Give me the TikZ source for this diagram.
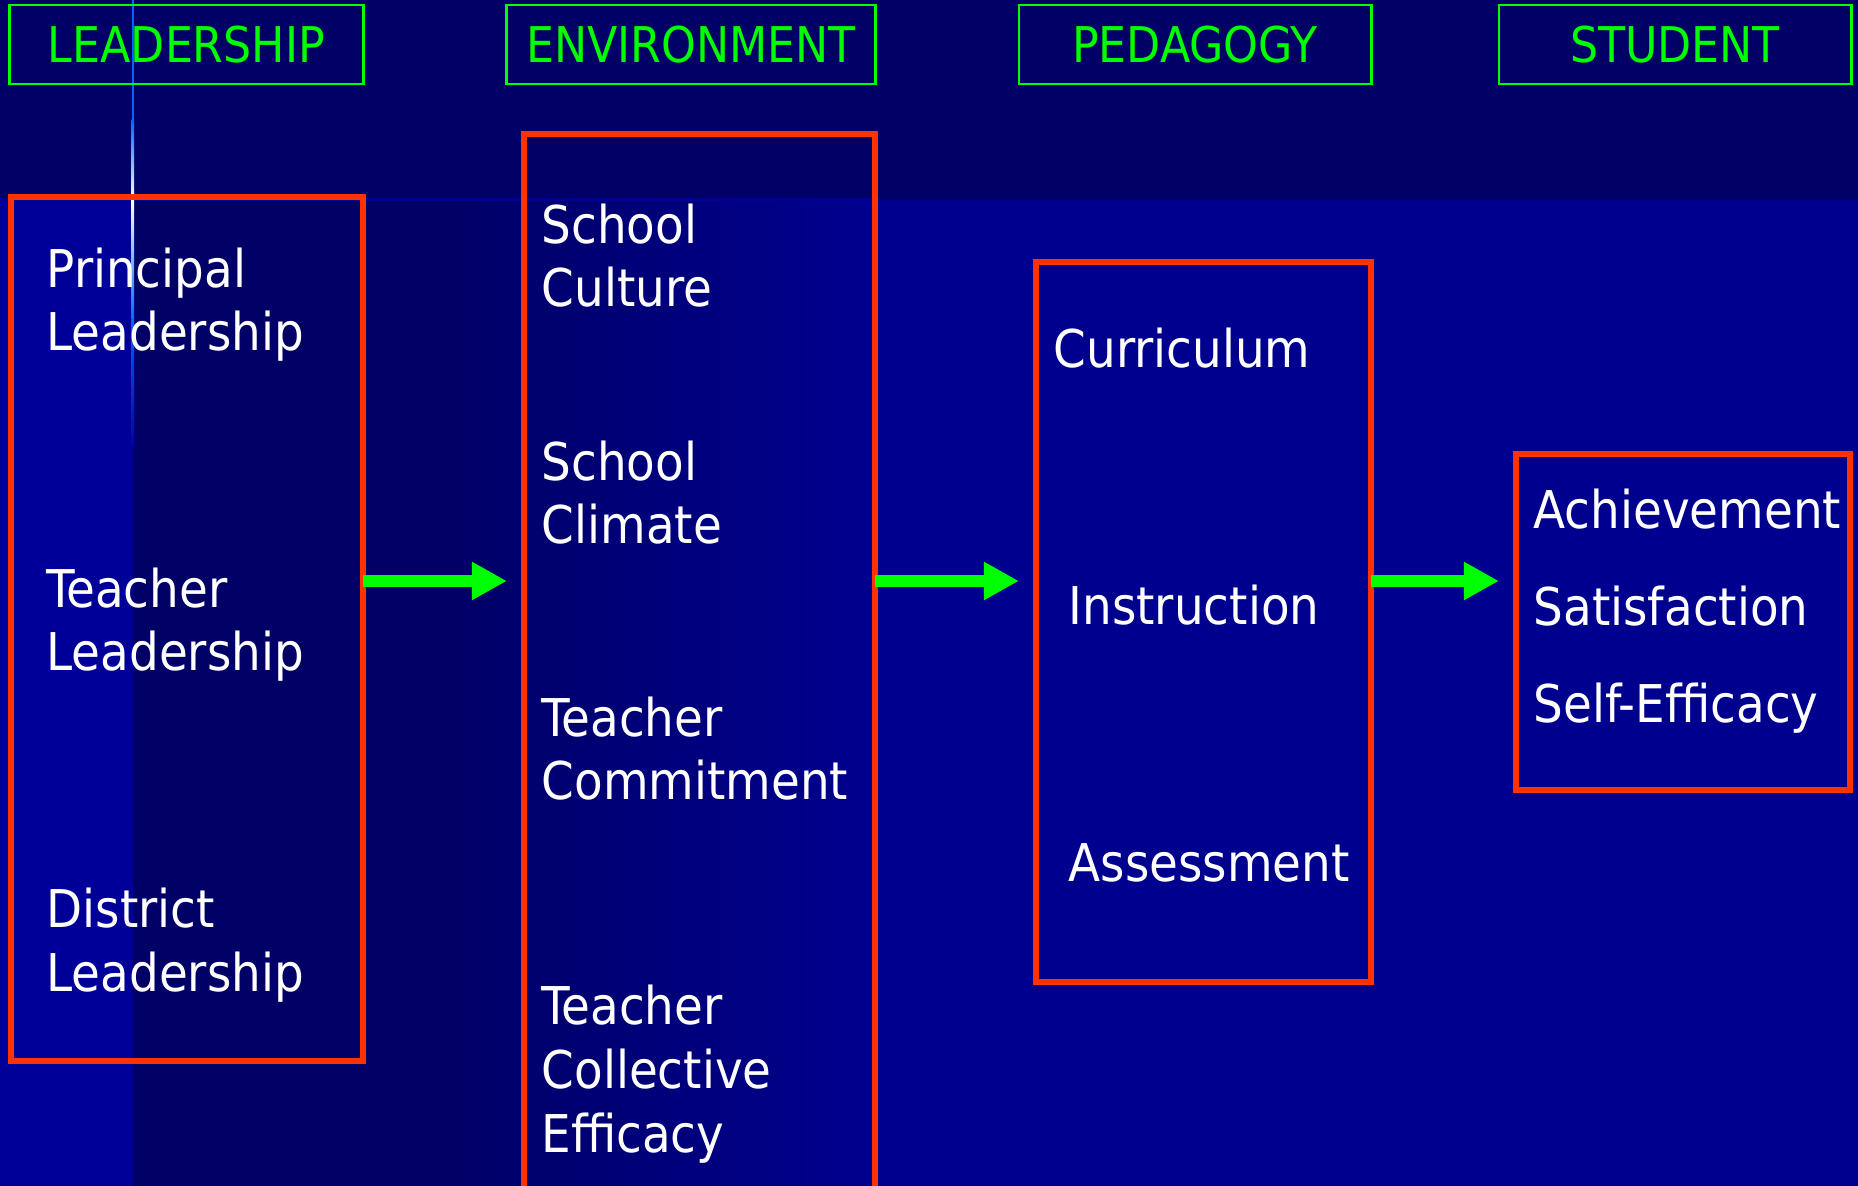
\documentclass[tikz,border=0pt]{standalone}
\usepackage{fontspec}
\setmainfont{DejaVu Sans Condensed}
\usepackage{tikz}
\usetikzlibrary{arrows.meta, positioning}

\definecolor{slidenavy}{RGB}{0,0,102}
\definecolor{slideblue}{RGB}{0,0,143}
\definecolor{stripblue}{RGB}{0,0,153}
\definecolor{glowblue}{RGB}{0,102,255}
\definecolor{boxred}{RGB}{255,51,0}
\definecolor{headgreen}{RGB}{0,255,0}

\tikzset{
  headbox/.style={draw=headgreen, rectangle, line width=0.8pt, minimum height=0.79cm, inner sep=0pt, text=headgreen, font=\fontsize{14}{17}\selectfont},
  redbox/.style={draw=boxred, rectangle, line width=1.7pt, inner sep=0pt, outer sep=0pt},
  item/.style={text=white, align=left, anchor=base west, inner sep=0pt, font=\fontsize{14.8}{18.1}\selectfont},
  flowarrow/.style={draw=headgreen, line width=0.12cm, -{Triangle[length=0.35cm, width=0.36cm]}, shorten >=0.17cm}
}

\begin{document}
\begin{tikzpicture}[x=0.01cm, y=-0.01cm]
  \clip (0,0) rectangle (1858,1186);
  % slide background
  \fill[slidenavy] (0,0) rectangle (1858,1186);
  \fill[stripblue] (0,200) rectangle (133,1186);
  \shade[left color=slidenavy, right color=slideblue] (450,200) rectangle (880,1186);
  \fill[slideblue] (880,200) rectangle (1858,1186);
  \fill[stripblue] (0,198.5) rectangle (880,201.5);
  \fill[glowblue] (131.5,0) rectangle (134,120);
  \shade[top color=glowblue, bottom color=white] (131.5,120) rectangle (134,200);
  \shade[top color=white, bottom color=glowblue] (131.5,200) rectangle (134,320);
  \shade[top color=glowblue, bottom color=stripblue] (131.5,320) rectangle (134,450);

  % column heads
  \node[headbox, minimum width=3.53cm] (lead) at (186.5,44.5) {LEADERSHIP};
  \node[headbox, minimum width=3.68cm] (env) at (691,44.5) {ENVIRONMENT};
  \node[headbox, minimum width=3.52cm] (ped) at (1195,44.5) {PEDAGOGY};
  \node[headbox, minimum width=3.52cm] (stud) at (1675,44.5) {STUDENT};

  % red frames
  \node[redbox, minimum width=3.515cm, minimum height=8.635cm] (box1) at (187.25,629.25) {};
  \node[redbox, minimum width=3.51cm, minimum height=11.26cm] (box2) at (699.5,697) {};
  \node[redbox, minimum width=3.35cm, minimum height=7.195cm] (box3) at (1203.5,621.75) {};
  \node[redbox, minimum width=3.34cm, minimum height=3.36cm] (box4) at (1683,622) {};

  % items, placed by the baseline of their last line
  \node[item] (prin) at (46,351) {Principal\\Leadership};
  \node[item] (tlead) at (46,671) {Teacher\\Leadership};
  \node[item] (dist) at (46,991) {District\\Leadership};

  \node[item] (cult) at (541,307) {School\\Culture};
  \node[item] (clim) at (541,544) {School\\Climate};
  \node[item] (commit) at (541,800) {Teacher\\Commitment};
  \node[item] (tce) at (541,1152) {Teacher\\Collective\\Efficacy};

  \node[item] (curr) at (1053,368) {Curriculum};
  \node[item] (instr) at (1068,625) {Instruction};
  \node[item] (assess) at (1068,881) {Assessment};

  \node[item, font=\fontsize{14.8}{27.7}\selectfont] (outc) at (1533,723) {Achievement\\Satisfaction\\Self-Efficacy};

  \coordinate (lvl) at (0,581);
  \draw[flowarrow] (box1.east |- lvl) -- (box2.west |- lvl);
  \draw[flowarrow] (box2.east |- lvl) -- (box3.west |- lvl);
  \draw[flowarrow] (box3.east |- lvl) -- (box4.west |- lvl);
\end{tikzpicture}
\end{document}
